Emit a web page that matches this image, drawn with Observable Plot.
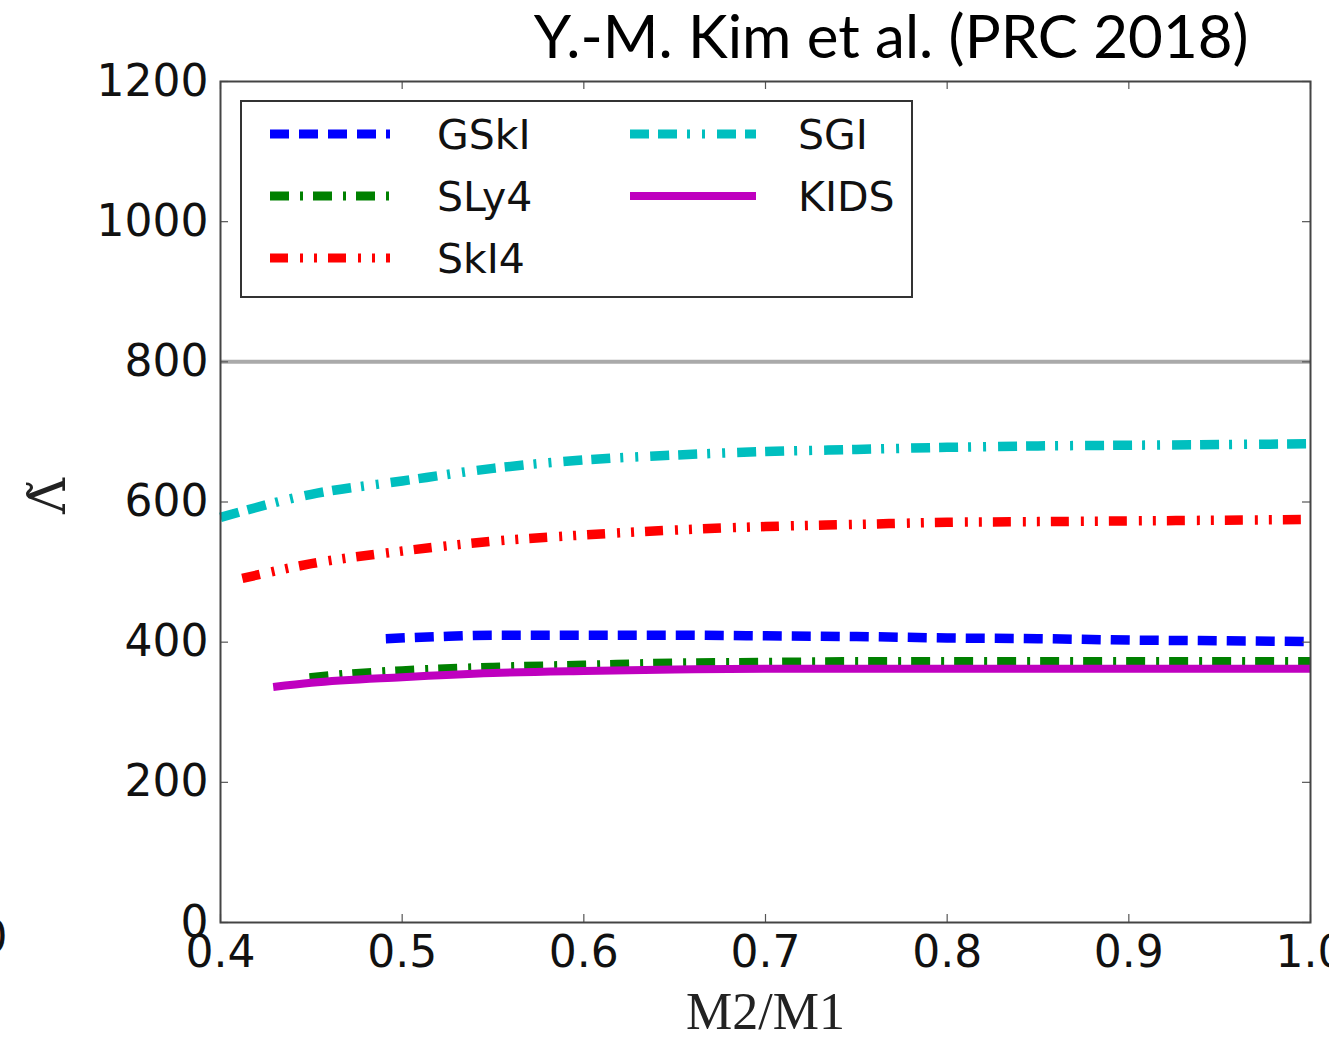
<!DOCTYPE html>
<html><head><meta charset="utf-8">
<script src="https://cdn.jsdelivr.net/npm/d3@7"></script>
<script src="https://cdn.jsdelivr.net/npm/@observablehq/plot@0.6"></script>
<style>
html,body{margin:0;padding:0;background:#fff;overflow:hidden;width:1329px;height:1039px;}
#wrap{position:relative;width:1329px;height:1039px;}
#legend{position:absolute;left:240px;top:100px;width:669px;height:194px;border:2px solid #333;background:#fff;}
#legend svg{position:absolute;left:0;top:0;}
</style></head><body><div id="wrap"></div>
<script>
// ---- data ----
const xTicks = [0.4, 0.5, 0.6, 0.7, 0.8, 0.9, 1.0];
const yTicks = [0, 200, 400, 600, 800, 1000, 1200];
const limitLine = [800];

const gskiQ = [0.491, 0.52, 0.55, 0.6, 0.65, 0.7, 0.75, 0.8, 0.85, 0.9, 0.95, 1.0];
const gskiL = [405, 408, 410, 410, 410, 409, 408, 406, 405, 403, 402, 401];

const sly4Q = [0.449, 0.47, 0.5, 0.55, 0.6, 0.65, 0.7, 0.75, 0.8, 0.85, 0.9, 0.95, 1.0];
const sly4L = [349, 354, 359, 364, 367, 370, 371, 372, 372, 372, 372, 372, 372];

const ski4Q = [0.412, 0.45, 0.5, 0.55, 0.6, 0.65, 0.7, 0.75, 0.8, 0.85, 0.9, 0.95, 1.0];
const ski4L = [491, 512, 530, 544, 553, 560, 565, 568, 571, 572, 573, 574, 575];

const sgiQ = [0.4, 0.45, 0.5, 0.55, 0.6, 0.65, 0.7, 0.75, 0.8, 0.85, 0.9, 0.95, 1.0];
const sgiL = [578, 611, 630, 648, 660, 667, 672, 675, 678, 680, 681, 682, 683];

const kidsQ = [0.429, 0.45, 0.5, 0.55, 0.6, 0.65, 0.7, 0.75, 0.8, 0.85, 0.9, 0.95, 1.0];
const kidsL = [336, 342, 350, 356, 359, 361, 362, 362, 362, 362, 362, 362, 362];

const seriesNames = ["GSkI", "SLy4", "SkI4", "SGI", "KIDS"];
const seriesColors = ["#0000ff", "#008000", "#ff0000", "#00bfbf", "#bf00bf"];
const seriesDashes = ["19,10", "19,11,3,10", "18,12,3,11,3,11", "19,9,19,10,3,12,3,12", null];

const titleText = "Y.-M. Kim et al. (PRC 2018)";
const xLabel = "M2/M1";
const yLabel = "\u039B\u0303";

// ---- build ----
const qs = [gskiQ, sly4Q, ski4Q, sgiQ, kidsQ];
const ls = [gskiL, sly4L, ski4L, sgiL, kidsL];
const tables = qs.map((q, i) => q.map((v, j) => ({x: v, y: ls[i][j]})));

const W = 1329, H = 1039, mL = 220, mR = 19, mT = 81, mB = 117;
const iw = W - mL - mR, ih = H - mT - mB;

const lineMarks = tables.map((t, i) => Plot.line(t, {
  x: "x", y: "y", stroke: seriesColors[i], strokeWidth: i === 4 ? 8 : 9.5,
  strokeDasharray: seriesDashes[i] || undefined, strokeLinecap: "butt", curve: "monotone-x"
}));

const chart = Plot.plot({
  width: W, height: H,
  marginLeft: mL, marginRight: mR, marginTop: mT, marginBottom: mB,
  x: {domain: [0.4, 1.0]},
  y: {domain: [0, 1200]},
  style: {fontFamily: "DejaVu Sans", fontSize: "44px", color: "#111", background: "#fff", overflow: "visible"},
  marks: [
    Plot.ruleY(limitLine, {stroke: "#aaaaaa", strokeWidth: 4}),
    ...lineMarks,
    Plot.tickX(xTicks, {x: d => d, insetTop: ih - 8, stroke: "#555", strokeWidth: 1.2}),
    Plot.tickX(xTicks, {x: d => d, insetBottom: ih - 8, stroke: "#555", strokeWidth: 1.2}),
    Plot.tickY(yTicks, {y: d => d, insetRight: iw - 8, stroke: "#555", strokeWidth: 1.2}),
    Plot.tickY(yTicks, {y: d => d, insetLeft: iw - 8, stroke: "#555", strokeWidth: 1.2}),
    Plot.axisX(xTicks, {tickSize: 0, tickPadding: 13, tickFormat: d => d.toFixed(1), label: null, fontSize: 44}),
    Plot.axisY(yTicks, {tickSize: 0, tickPadding: 12, tickFormat: d => String(d), label: null, fontSize: 44}),
    Plot.frame({stroke: "#444", strokeWidth: 2}),
    Plot.text([titleText], {frameAnchor: "top-right", textAnchor: "end", lineAnchor: "middle", dx: -62, dy: -43, fontFamily: "Lato", fontSize: 60, fill: "#000"}),
    Plot.text([xLabel], {frameAnchor: "bottom", lineAnchor: "middle", dy: 90, fontFamily: "Liberation Serif", fontSize: 52, fill: "#222"}),
    Plot.text([yLabel], {frameAnchor: "left", textAnchor: "middle", lineAnchor: "middle", dx: -172, dy: -6, rotate: -90, fontFamily: "DejaVu Serif", fontSize: 50, fill: "#222"}),
    Plot.text(["0"], {frameAnchor: "bottom-left", textAnchor: "middle", lineAnchor: "middle", dx: -227, dy: 15, fontSize: 44, fill: "#111"})
  ]
});
document.getElementById("wrap").appendChild(chart);

// ---- legend ----
const leg = document.createElement("div");
leg.id = "legend";
document.getElementById("wrap").appendChild(leg);
const lsvg = d3.select(leg).append("svg").attr("width", 669).attr("height", 194);
const cells = [
  {i: 0, col: 0, row: 0}, {i: 1, col: 0, row: 1}, {i: 2, col: 0, row: 2},
  {i: 3, col: 1, row: 0}, {i: 4, col: 1, row: 1}
];
const colX = [[28, 148, 195], [388, 514, 556]];
cells.forEach(c => {
  const cy = 32 + c.row * 62;
  const [x1, x2, tx] = colX[c.col];
  lsvg.append("line").attr("x1", x1).attr("x2", x2).attr("y1", cy).attr("y2", cy)
    .attr("stroke", seriesColors[c.i]).attr("stroke-width", c.i === 4 ? 8 : 9)
    .attr("stroke-dasharray", seriesDashes[c.i]).attr("stroke-linecap", "butt");
  lsvg.append("text").attr("x", tx).attr("y", cy).attr("dy", "0.36em")
    .attr("font-family", "DejaVu Sans").attr("font-size", 41).attr("fill", "#111")
    .text(seriesNames[c.i]);
});
</script></body></html>
